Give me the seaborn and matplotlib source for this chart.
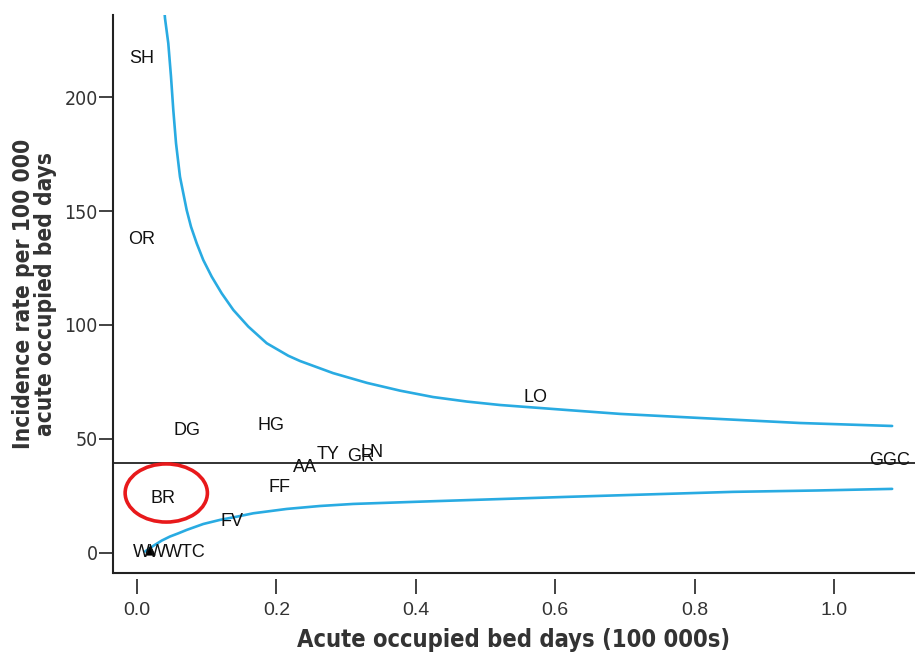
import matplotlib
matplotlib.use("Agg")
import matplotlib.pyplot as plt
from matplotlib.patches import Ellipse
from matplotlib.lines import Line2D
import seaborn as sns
import pandas as pd

# ---- data ----
labels = ["SH", "OR", "DG", "HG", "TY", "GR", "LN", "AA", "FF", "BR", "FV", "LO", "GGC", "WW", "WTC"]
bed_days = [0.007, 0.006, 0.072, 0.192, 0.274, 0.321, 0.337, 0.241, 0.204, 0.037, 0.136, 0.571, 1.079, 0.019, 0.069]
rates = [217.1, 137.7, 53.5, 56.1, 43.0, 42.5, 43.9, 37.3, 28.5, 24.1, 13.6, 68.4, 40.4, 0.0, 0.0]

overall_rate = 39.5

upper_x = [0.0398, 0.0402, 0.0449, 0.0488, 0.0521, 0.0560, 0.0617, 0.0713, 0.0775, 0.0857, 0.0951,
           0.1072, 0.1215, 0.1382, 0.1597, 0.1861, 0.2171, 0.2339, 0.2812, 0.3300, 0.3773,
           0.4247, 0.4735, 0.5208, 0.6169, 0.6930, 0.8077, 0.9512, 1.0832]
upper_y = [236.0, 234.5, 223.6, 208.9, 194.3, 179.7, 165.0, 150.4, 143.1, 135.8, 128.5,
           121.2, 113.9, 106.6, 99.3, 92.0, 86.5, 84.2, 78.9, 74.6, 71.2,
           68.4, 66.4, 64.9, 62.7, 61.0, 59.2, 57.0, 55.7]
lower_x = [0.0115, 0.0234, 0.0354, 0.0473, 0.0593, 0.0713, 0.0951, 0.1191, 0.1430, 0.1669,
           0.2148, 0.2626, 0.3104, 0.3583, 0.4060, 0.4964, 0.6169, 0.7360, 0.8551, 0.9756, 1.0832]
lower_y = [0.6, 3.1, 5.4, 7.2, 8.6, 10.1, 12.7, 14.5, 15.9, 17.4,
           19.3, 20.6, 21.5, 22.0, 22.5, 23.4, 24.6, 25.7, 26.8, 27.4, 28.1]

marker_x = [0.019]
marker_y = [1.3]

x_ticks = [0.0, 0.2, 0.4, 0.6, 0.8, 1.0]
y_ticks = [0, 50, 100, 150, 200]

highlight = "BR"

# ---- styling ----
sns.set_style("white")
plt.rcParams["font.family"] = ["Liberation Sans", "DejaVu Sans"]
narrow = dict(family="DejaVu Sans", stretch="condensed")

fig = plt.figure(figsize=(9.15, 6.52), dpi=100)
ax = fig.add_axes([113 / 915, 79 / 652, 1 - 113 / 915, (573 - 15) / 652])

curve_color = "#29ABE2"
df_up = pd.DataFrame({"x": upper_x, "y": upper_y})
df_lo = pd.DataFrame({"x": lower_x, "y": lower_y})
sns.lineplot(data=df_up, x="x", y="y", ax=ax, color=curve_color, linewidth=1.9, sort=False, estimator=None)
sns.lineplot(data=df_lo, x="x", y="y", ax=ax, color=curve_color, linewidth=1.9, sort=False, estimator=None)
ax.axhline(overall_rate, color="#222222", linewidth=1.3, zorder=1)

sns.scatterplot(x=marker_x, y=marker_y, ax=ax, marker="^", color="black", s=45, edgecolor="black", zorder=4)

for lab, xv, yv in zip(labels, bed_days, rates):
    ax.text(xv, yv, lab, ha="center", va="center", fontsize=13, color="#111111", zorder=5)

i = labels.index(highlight)
ell = Ellipse((bed_days[i] + 0.005, rates[i] + 2.2), width=0.118, height=25.5,
              fill=False, edgecolor="#E8191B", linewidth=2.6, zorder=6)
ax.add_patch(ell)

ax.set_xlim(-0.0344, 1.116)
ax.set_ylim(-8.8, 236)

ax.set_xticks(x_ticks)
ax.set_xticklabels([f"{t:.1f}" for t in x_ticks])
ax.set_yticks(y_ticks)
ax.set_yticklabels([str(t) for t in y_ticks])
ax.tick_params(axis="both", labelsize=14, labelcolor="#333333")
for t in ax.get_xticklabels() + ax.get_yticklabels():
    t.set_fontfamily("DejaVu Sans")
    t.set_fontstretch("condensed")

for s in ["top", "right"]:
    ax.spines[s].set_visible(False)
ax.spines["left"].set_color("#222222")
ax.spines["left"].set_linewidth(1.5)
ax.spines["bottom"].set_position(("outward", 4))
ax.spines["bottom"].set_visible(False)
ax.add_line(Line2D([0, 1], [0, 0], transform=ax.transAxes, color="#222222", linewidth=1.5, clip_on=False))

ax.tick_params(axis="x", direction="out", length=11, width=1.2, color="#222222", pad=6, bottom=True)
ax.tick_params(axis="y", direction="out", length=10, width=1.2, color="#222222", pad=1, left=True)

ax.set_xlabel("Acute occupied bed days (100 000s)", fontweight="bold",
              fontsize=17, color="#333333", labelpad=6, **narrow)
ax.set_ylabel("Incidence rate per 100 000\nacute occupied bed days",
              fontweight="bold", fontsize=16.3, color="#333333", labelpad=5, linespacing=0.95, **narrow)

fig.savefig("out.png", dpi=100)
